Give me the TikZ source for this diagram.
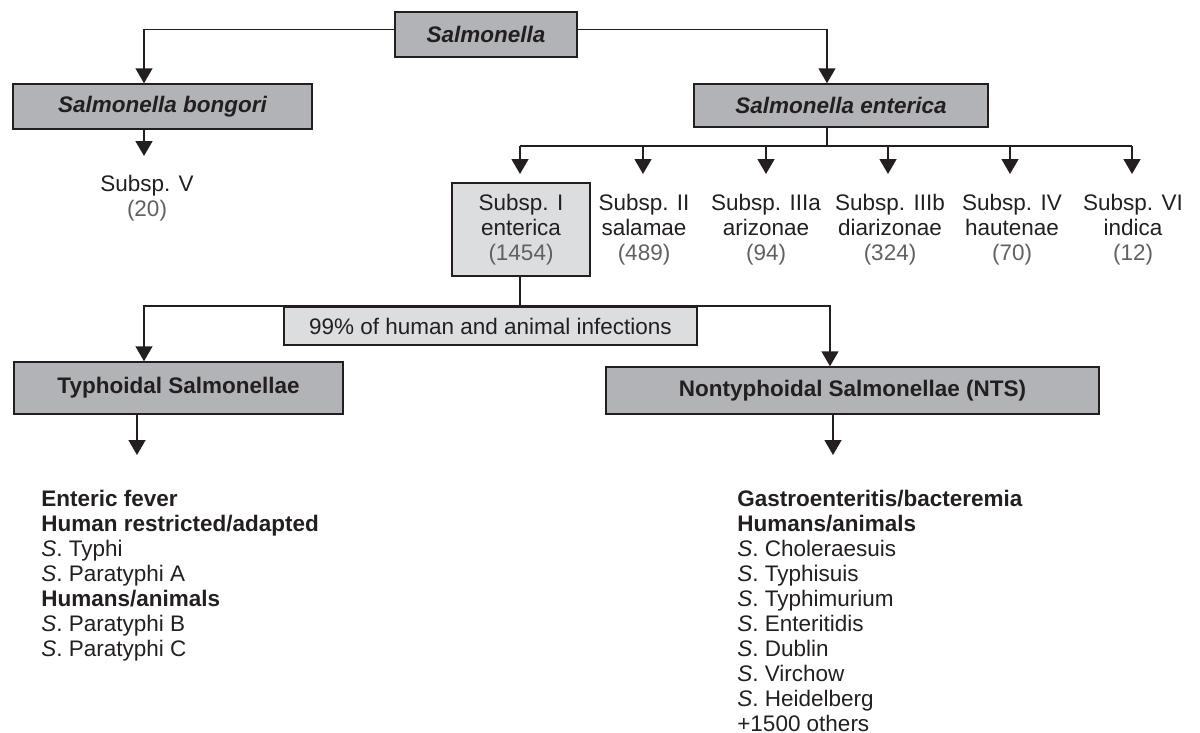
\documentclass[tikz,border=0pt]{standalone}
\usepackage{fontspec}
\setmainfont{Liberation Sans}
\usetikzlibrary{arrows.meta, positioning, calc}
\definecolor{boxdark}{HTML}{B1B3B6}
\definecolor{boxlight}{HTML}{DCDDDF}
\definecolor{inkblack}{HTML}{231F20}
\definecolor{numgray}{HTML}{5F6062}

\begin{document}
\begin{tikzpicture}[
    x=0.02cm, y=-0.02cm,
    font=\fontsize{12.8}{14.2}\selectfont,
    every node/.style={text=inkblack},
    taxbox/.style={rectangle, draw=inkblack, fill=boxdark, line width=0.85pt, minimum height=0.9cm, inner sep=0pt, font=\fontsize{12.8}{14.2}\selectfont\bfseries\itshape},
    groupbox/.style={taxbox, font=\fontsize{12.8}{14.2}\selectfont\bfseries},
    subbox/.style={rectangle, draw=inkblack, fill=boxlight, line width=0.85pt, inner sep=0pt, align=center},
    subtext/.style={align=center, inner sep=0pt},
    listtext/.style={align=left, inner sep=0pt, anchor=north west},
    link/.style={draw=inkblack, line width=0.85pt},
    arr/.style={link, -{Triangle[width=0.34cm, length=0.3cm]}}
]
\useasboundingbox (0,0) rectangle (1200,733);

\node[taxbox, minimum width=3.64cm] (sal) at (486,34.5) {Salmonella};
\node[taxbox, minimum width=5.98cm] (bong) at (162.5,106.5) {Salmonella bongori};
\node[taxbox, minimum width=5.88cm, minimum height=0.86cm] (ent) at (841,105.5) {Salmonella enterica};

\node[subtext] (sV) at (147,198) {Subsp. V\\\textcolor{numgray}{(20)}};
\node[subbox, minimum width=2.76cm, minimum height=1.86cm] (s1) at (521,229.5) {Subsp. I\\enterica\\\textcolor{numgray}{(1454)}};
\node[subtext] (s2) at (644,230) {Subsp. II\\salamae\\\textcolor{numgray}{(489)}};
\node[subtext] (s3) at (766,230) {Subsp. IIIa\\arizonae\\\textcolor{numgray}{(94)}};
\node[subtext] (s4) at (890,230) {Subsp. IIIb\\diarizonae\\\textcolor{numgray}{(324)}};
\node[subtext] (s5) at (1012,230) {Subsp. IV\\hautenae\\\textcolor{numgray}{(70)}};
\node[subtext] (s6) at (1133,230) {Subsp. VI\\indica\\\textcolor{numgray}{(12)}};

\node[subbox, minimum width=8.26cm, minimum height=0.76cm] (pct) at (490.5,326) {99\% of human and animal infections};
\node[groupbox, minimum width=6.58cm, minimum height=1.04cm] (typ) at (178.5,388) {Typhoidal Salmonellae};
\node[groupbox, minimum width=9.86cm, minimum height=0.94cm] (nts) at (852.5,390.5) {Nontyphoidal Salmonellae (NTS)};

\node[listtext] (typlist) at (41,490) {\textbf{Enteric fever}\\\textbf{Human restricted/adapted}\\\textit{S}. Typhi\\\textit{S}. Paratyphi A\\\textbf{Humans/animals}\\\textit{S}. Paratyphi B\\\textit{S}. Paratyphi C};
\node[listtext] (ntslist) at (737,490) {\textbf{Gastroenteritis/bacteremia}\\\textbf{Humans/animals}\\\textit{S}. Choleraesuis\\\textit{S}. Typhisuis\\\textit{S}. Typhimurium\\\textit{S}. Enteritidis\\\textit{S}. Dublin\\\textit{S}. Virchow\\\textit{S}. Heidelberg\\+1500 others};

\draw[arr] ([yshift=0.1cm]sal.west) -| (144,0 |- bong.north);
\draw[arr] ([yshift=0.1cm]sal.east) -| (827,0 |- ent.north);
\coordinate (vtip) at (144,156);
\draw[arr] (vtip |- bong.south) -- (vtip);

\coordinate (bus) at (827,146);
\draw[link] (bus |- ent.south) -- (bus);
\foreach \x [count=\i] in {520,643,766,888,1010,1132} {
  \coordinate (tip\i) at (\x,174);
  \draw[arr] (bus -| tip\i) -- (tip\i);
}
\draw[link] (bus -| tip1) -- (bus -| tip6);

\coordinate (split) at (520,306);
\draw[link] (split |- s1.south) -- (split);
\draw[arr] (split) -| (144,0 |- typ.north);
\draw[arr] (split) -| (830,0 |- nts.north);

\coordinate (ltip) at (137,455);
\draw[arr] (ltip |- typ.south) -- (ltip);
\coordinate (rtip) at (833,455);
\draw[arr] (rtip |- nts.south) -- (rtip);
\end{tikzpicture}
\end{document}
